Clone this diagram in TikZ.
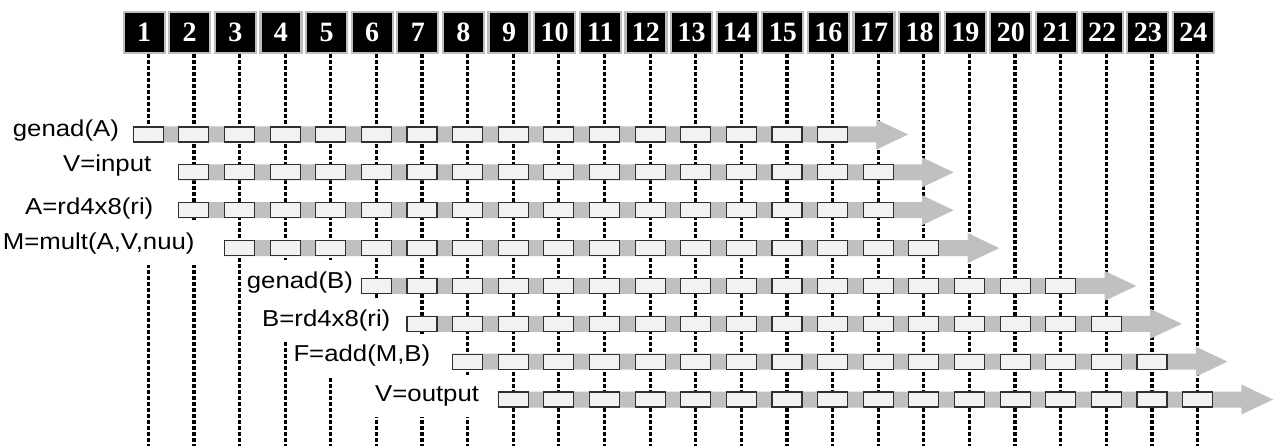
\documentclass[tikz,border=0pt]{standalone}
\usepackage{fontspec}
\setmainfont{Liberation Sans}[FakeStretch=1.12]
\newfontfamily\numfont{Liberation Serif}
\definecolor{bargray}{HTML}{C0C0C0}
\definecolor{boxfill}{HTML}{F2F2F2}
\definecolor{boxedge}{HTML}{303030}
\definecolor{hdredge}{HTML}{BEBEBE}
\begin{document}
\begin{tikzpicture}[x=1pt,y=-1pt,
  hdr/.style={draw=hdredge, line width=2.2pt, fill=black, minimum width=41pt, minimum height=41pt, inner sep=0pt, text=white, font=\numfont\bfseries\fontsize{28}{28}\selectfont},
  timeline/.style={line width=3.2pt, dash pattern=on 3.6pt off 2.4pt},
  lbl/.style={fill=white, inner xsep=4pt, inner ysep=11pt, font=\fontsize{23}{27}\selectfont, anchor=base west},
  slot/.style={draw=boxedge, line width=1.1pt, fill=boxfill, minimum width=30pt, minimum height=15pt, inner sep=0pt},
  flow/.style={fill=bargray}]
\useasboundingbox (0,0) rectangle (1273,446);
% header and time lines
\foreach \k in {1,...,24} {
  \pgfmathsetmacro\xc{148.3+(\k-1)*45.62}
  \coordinate (t\k) at (\xc,54);
  \coordinate (b\k) at (\xc,446);
  \draw[timeline] (t\k) -- (b\k);
  \node[hdr] (h\k) at (\xc-4.2,32.5) {\k};
}
% labels
\foreach \r/\txt/\lx/\by in {1/{genad(A)}/12.7/136.7, 2/{V=input}/63/171.7, 3/{A=rd4x8(ri)}/25/215, 4/{M=mult(A,V,nuu)}/2.7/249.3, 5/{genad(B)}/246.7/288, 6/{B=rd4x8(ri)}/262/326.7, 7/{F=add(M,B)}/293.3/361.7, 8/{V=output}/375/401.7} {
  \node[lbl] (L\r) at (\lx-4,\by) {\txt};
}
% pipelines
\foreach \r/\c in {1/1, 2/2, 3/2, 4/3, 5/6, 6/7, 7/8, 8/9} {
  \pgfmathsetmacro\yc{134.5+(\r-1)*37.86}
  \pgfmathsetmacro\xs{148.3+(\c-1)*45.62-15.5}
  \pgfmathsetmacro\xe{148.3+(\c+14)*45.62+15.5+28.3}
  \fill[flow] (\xs,\yc-8) -- (\xe,\yc-8) -- (\xe,\yc-15) -- (\xe+31.7,\yc) -- (\xe,\yc+15) -- (\xe,\yc+8) -- (\xs,\yc+8) -- cycle;
  \foreach \j in {0,...,15} {
    \node[slot] (s\r-\j) at ({148.3+(\c+\j-1)*45.62},\yc) {};
  }
}
\end{tikzpicture}
\end{document}
